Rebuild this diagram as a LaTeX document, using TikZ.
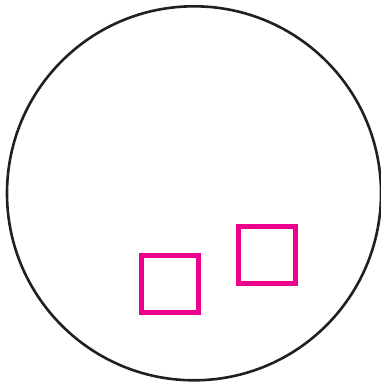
\documentclass[tikz,border=0pt]{standalone}
\definecolor{ink}{HTML}{231F20}
\definecolor{mag}{HTML}{EC008C}
\begin{document}
\begin{tikzpicture}[x=1pt,y=-1pt,
  ring/.style={draw=ink,line width=2.6pt},
  sq/.style={draw=mag,line width=5pt}]
\useasboundingbox (0,0) rectangle (380,382);
\draw[ring] (194,193.3) circle[radius=187];
\draw[sq] (141.8,255.8) rectangle (198.5,312.5);
\draw[sq] (238.5,226.5) rectangle (295.2,283.5);
\end{tikzpicture}
\end{document}
